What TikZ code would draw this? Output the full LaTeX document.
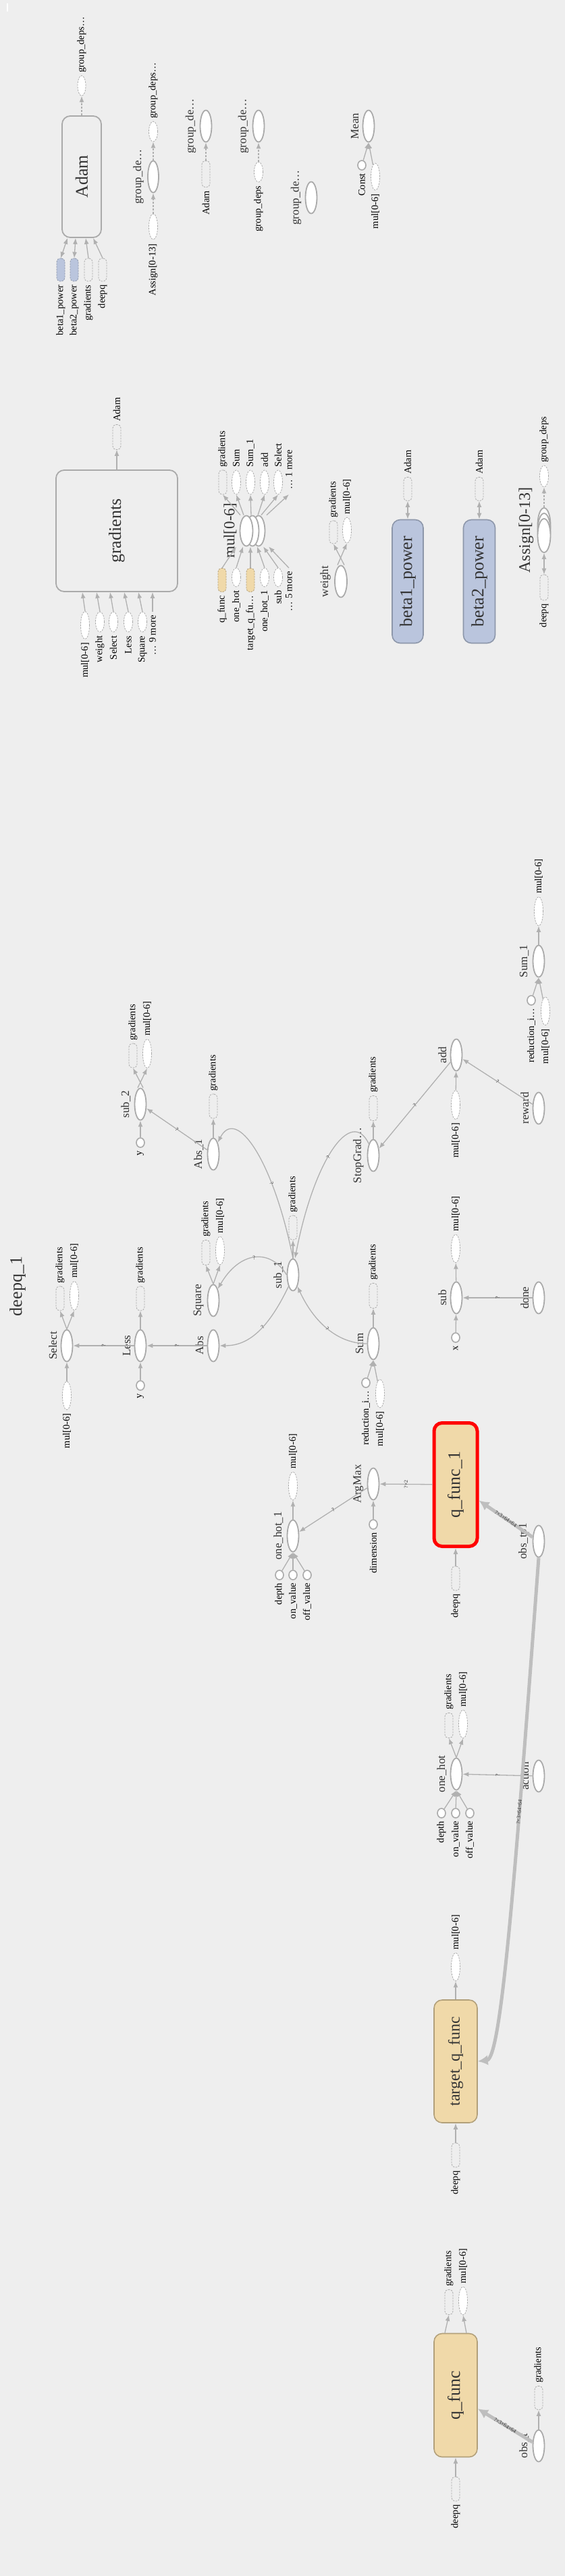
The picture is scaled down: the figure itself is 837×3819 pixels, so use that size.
\documentclass[tikz,border=0pt]{standalone}
\usepackage{fontspec}
\setmainfont{Liberation Serif}
\usetikzlibrary{shapes.geometric, arrows.meta, positioning}

\definecolor{bg}{HTML}{EEEEEE}
\definecolor{nodegray}{HTML}{AAAAAA}
\definecolor{edgegray}{HTML}{B0B0B0}
\definecolor{thickgray}{HTML}{BEBEBE}
\definecolor{functan}{HTML}{F0D9A9}
\definecolor{funcedge}{HTML}{B2A07A}
\definecolor{varblue}{HTML}{BAC5DD}
\definecolor{varedge}{HTML}{8D97AA}
\definecolor{labelgray}{HTML}{333333}

\tikzset{
  op/.style={ellipse, draw=nodegray, fill=white, line width=1.8pt,
    minimum width=17pt, minimum height=47pt, inner sep=0pt},
  cnst/.style={ellipse, draw=nodegray, fill=white, line width=1.6pt,
    minimum width=12pt, minimum height=14pt, inner sep=0pt},
  extrect/.style={rectangle, rounded corners=5pt, draw=nodegray,
    dash pattern=on 2.5pt off 1.5pt, line width=0.8pt,
    minimum width=12pt, minimum height=36pt, inner sep=0pt},
  extell/.style={ellipse, draw=nodegray, dash pattern=on 2.5pt off 1.5pt,
    fill=white, line width=0.8pt, minimum width=13pt, minimum height=42pt, inner sep=0pt},
  metabox/.style={rectangle, rounded corners=12pt, draw=nodegray,
    line width=1.8pt, inner sep=0pt},
  funcbox/.style={rectangle, rounded corners=12pt, draw=funcedge, fill=functan,
    line width=1.6pt, minimum width=64pt, minimum height=183pt, inner sep=0pt},
  varbox/.style={rectangle, rounded corners=12pt, draw=varedge, fill=varblue,
    line width=1.6pt, minimum width=46pt, minimum height=183pt, inner sep=0pt},
  biglbl/.style={rotate=90, text=labelgray, inner sep=0pt,
    font=\fontsize{26}{26}\selectfont},
  oplbl/.style={rotate=90, anchor=south, text=labelgray, inner sep=1pt,
    font=\fontsize{17}{17}\selectfont},
  upl/.style={rotate=90, anchor=west, inner sep=1pt,
    font=\fontsize{14.5}{14.5}\selectfont},
  dnl/.style={rotate=90, anchor=east, inner sep=1pt,
    font=\fontsize{14.5}{14.5}\selectfont},
  elbl/.style={text=labelgray, inner sep=1pt, font=\fontsize{8}{8}\selectfont},
  flow/.style={draw=edgegray, line width=1.3pt, -{Latex[length=9pt,width=7pt]}},
  ctrl/.style={flow, dash pattern=on 3pt off 2pt},
  refedge/.style={draw=edgegray, line width=1.3pt,
    {Latex[length=9pt,width=7pt]}-{Latex[length=9pt,width=7pt]}},
  heavy/.style={draw=thickgray, line width=5pt, -{Latex[length=15pt,width=15pt]}},
}

\begin{document}
\begin{tikzpicture}[x=1pt, y=-1pt]
\fill[bg] (0,0) rectangle (837,3819);
\useasboundingbox (0,0) rectangle (837,3819);
\draw[white, line width=2pt] (11,5) -- (11,17);

% ---------- Adam
\node[metabox, minimum width=58pt, minimum height=180pt] (adam) at (121,262) {};
\node[biglbl] at (adam) {Adam};
\node[extell, minimum height=30pt, minimum width=12pt] (adamout) at (121,127) {};
\node[upl] at ([yshift=3pt]adamout.north) {group\_deps…};
\draw[ctrl] (adam) -- (adamout);
\node[extrect, fill=varblue, draw=varedge, minimum height=34pt] (b1in) at (90,400) {};
\node[extrect, fill=varblue, draw=varedge, minimum height=34pt] (b2in) at (110,400) {};
\node[extrect, minimum height=34pt] (gradin) at (131,400) {};
\node[extrect, minimum height=34pt] (deepqin) at (152,400) {};
\node[dnl] at ([yshift=-4pt]b1in.south) {beta1\_power};
\node[dnl] at ([yshift=-4pt]b2in.south) {beta2\_power};
\node[dnl] at ([yshift=-4pt]gradin.south) {gradients};
\node[dnl] at ([yshift=-4pt]deepqin.south) {deepq};
\draw[refedge] (b1in.north) -- ([xshift=-21pt]adam.south);
\draw[refedge] (b2in.north) -- ([xshift=-9pt]adam.south);
\draw[flow] (gradin.north) -- ([xshift=6pt]adam.south);
\draw[flow] (deepqin.north) -- ([xshift=17pt]adam.south);

% ---------- group_deps nodes
\node[op, minimum height=47pt, minimum width=16pt] (gd1) at (227,262) {};
\node[oplbl] at ([xshift=-4pt]gd1.west) {group\_de…};
\node[extell, minimum height=30pt] (gd1out) at (227,195) {};
\node[upl] at ([yshift=3pt]gd1out.north) {group\_deps…};
\node[extell, minimum height=38pt] (gd1in) at (227,336) {};
\node[dnl] at ([yshift=-5pt]gd1in.south) {Assign[0-13]};
\draw[ctrl] (gd1in) -- (gd1);
\draw[ctrl] (gd1) -- (gd1out);

\node[op] (gd2) at (305,187) {};
\node[oplbl] at ([xshift=-4pt]gd2.west) {group\_de…};
\node[extrect, minimum height=39pt] (gd2in) at (305,258) {};
\node[dnl] at ([yshift=-4pt]gd2in.south) {Adam};
\draw[ctrl] (gd2in) -- (gd2);

\node[op] (gd3) at (383,187) {};
\node[oplbl] at ([xshift=-4pt]gd3.west) {group\_de…};
\node[extell, minimum height=30pt] (gd3in) at (383,255) {};
\node[dnl] at ([yshift=-4pt]gd3in.south) {group\_deps};
\draw[ctrl] (gd3in) -- (gd3);

\node[op] (gd4) at (461,293) {};
\node[oplbl] at ([xshift=-4pt]gd4.west) {group\_de…};

% ---------- Mean
\node[op] (mean) at (546,187) {};
\node[oplbl] at ([xshift=-4pt]mean.west) {Mean};
\node[cnst] (meanc) at (536,245) {};
\node[dnl] at ([yshift=-3pt]meanc.south) {Const};
\node[extell, minimum height=40pt] (meanm) at (556,262) {};
\node[dnl] at ([yshift=-4pt]meanm.south) {mul[0-6]};
\draw[flow] (meanc) -- (mean.south);
\draw[flow] (meanm) -- (mean.south);

% ---------- gradients
\node[metabox, minimum width=180pt, minimum height=180pt] (grad) at (173,787) {};
\node[biglbl] at (grad) {gradients};
\node[extrect, minimum height=37pt] (gradout) at (173,648) {};
\node[upl] at ([yshift=3pt]gradout.north) {Adam};
\draw[flow] (grad) -- (gradout);
\node[extell, minimum height=41pt] (gin1) at (126,927) {};
\node[extell, minimum height=30pt] (gin2) at (148,922) {};
\node[extell, minimum height=30pt] (gin3) at (168,922) {};
\node[extell, minimum height=30pt] (gin4) at (190,922) {};
\node[extell, minimum height=30pt] (gin5) at (211,922) {};
\coordinate (gin6) at (226,907);
\node[dnl] at ([yshift=-4pt]gin1.south) {mul[0-6]};
\node[dnl] at ([yshift=-4pt]gin2.south) {weight};
\node[dnl] at ([yshift=-4pt]gin3.south) {Select};
\node[dnl] at ([yshift=-4pt]gin4.south) {Less};
\node[dnl] at ([yshift=-4pt]gin5.south) {Square};
\node[dnl] at ([yshift=-4pt]gin6) {… 9 more};
\draw[flow] (gin1.north) -- ([xshift=-51pt]grad.south);
\draw[flow] (gin2.north) -- ([xshift=-30pt]grad.south);
\draw[flow] (gin3.north) -- ([xshift=-10pt]grad.south);
\draw[flow] (gin4.north) -- ([xshift=11pt]grad.south);
\draw[flow] (gin5.north) -- ([xshift=32pt]grad.south);
\draw[flow] (gin6) -- ([xshift=53pt]grad.south);

% ---------- mul[0-6] series
\node[op, minimum width=19pt, minimum height=45pt] (mulc) at (383,787) {};
\node[op, minimum width=19pt, minimum height=45pt] (mulser) at (374,787) {};
\node[op, minimum width=19pt, minimum height=45pt] (mula) at (365,787) {};
\node[oplbl, font=\fontsize{23}{23}\selectfont] at ([xshift=-3pt]mula.west) {mul[0-6]};
\node[extrect] (mo1) at (330,715) {};
\node[extell, minimum height=36pt] (mo2) at (350,715) {};
\node[extell, minimum height=36pt] (mo3) at (371,715) {};
\node[extell, minimum height=36pt] (mo4) at (392,715) {};
\node[extell, minimum height=36pt] (mo5) at (412,715) {};
\coordinate (mo6) at (428,733);
\node[upl] at ([yshift=3pt]mo1.north) {gradients};
\node[upl] at ([yshift=3pt]mo2.north) {Sum};
\node[upl] at ([yshift=3pt]mo3.north) {Sum\_1};
\node[upl] at ([yshift=3pt]mo4.north) {add};
\node[upl] at ([yshift=3pt]mo5.north) {Select};
\node[upl] at ([yshift=6pt]mo6) {… 1 more};
\draw[flow] ([xshift=-18pt]mulser.north) -- (mo1.south);
\draw[flow] ([xshift=-13pt]mulser.north) -- (mo2.south);
\draw[flow] ([xshift=-2pt]mulser.north) -- (mo3.south);
\draw[flow] ([xshift=8pt]mulser.north) -- (mo4.south);
\draw[flow] ([xshift=13pt]mulser.north) -- (mo5.south);
\draw[flow] ([xshift=21pt]mulser.north) -- (mo6);
\node[extrect, fill=functan, draw=funcedge, minimum height=35pt] (mi1) at (329,860) {};
\node[extell, minimum height=28pt] (mi2) at (350,856) {};
\node[extrect, fill=functan, draw=funcedge, minimum height=35pt] (mi3) at (371,860) {};
\node[extell, minimum height=28pt] (mi4) at (392,856) {};
\node[extell, minimum height=28pt] (mi5) at (412,856) {};
\coordinate (mi6) at (428,842);
\node[dnl] at ([yshift=-4pt]mi1.south) {q\_func};
\node[dnl] at ([yshift=-4pt]mi2.south) {one\_hot};
\node[dnl] at ([yshift=-4pt]mi3.south) {target\_q\_fu…};
\node[dnl] at ([yshift=-4pt]mi4.south) {one\_hot\_1};
\node[dnl] at ([yshift=-4pt]mi5.south) {sub};
\node[dnl] at ([yshift=-4pt]mi6) {… 5 more};
\draw[flow] (mi1.north) -- ([xshift=-24pt]mulser.south);
\draw[flow] (mi2.north) -- ([xshift=-14pt]mulser.south);
\draw[flow] (mi3.north) -- ([xshift=-3pt]mulser.south);
\draw[flow] (mi4.north) -- ([xshift=7pt]mulser.south);
\draw[flow] (mi5.north) -- ([xshift=16pt]mulser.south);
\draw[flow] (mi6) -- ([xshift=24pt]mulser.south);

% ---------- weight
\node[op, minimum width=18pt] (weight) at (505,862) {};
\node[oplbl] at ([xshift=-4pt]weight.west) {weight};
\node[extrect, minimum height=34pt] (wout1) at (494,789) {};
\node[extell, minimum height=38pt] (wout2) at (514,786) {};
\node[upl] at ([yshift=3pt]wout1.north) {gradients};
\node[upl] at ([yshift=3pt]wout2.north) {mul[0-6]};
\draw[flow] ([xshift=5pt]weight.north) -- (wout1.south);
\draw[flow] ([xshift=-5pt]weight.north) -- (wout2.south);

% ---------- variables
\node[varbox] (beta1) at (604,862) {};
\node[biglbl] at (beta1) {beta1\_power};
\node[extrect, minimum height=35pt] (b1out) at (604,725) {};
\node[upl] at ([yshift=3pt]b1out.north) {Adam};
\draw[refedge] (beta1) -- (b1out);
\node[varbox, minimum width=47pt] (beta2) at (710,862) {};
\node[biglbl] at (beta2) {beta2\_power};
\node[extrect, minimum height=35pt] (b2out) at (710,725) {};
\node[upl] at ([yshift=3pt]b2out.north) {Adam};
\draw[refedge] (beta2) -- (b2out);

% ---------- Assign[0-13] series
\node[op, minimum width=19pt, minimum height=50pt] (asa) at (806,778) {};
\node[op, minimum width=19pt, minimum height=50pt] (asser) at (806,786) {};
\node[op, minimum width=19pt, minimum height=50pt] (asc) at (806,794) {};
\node[oplbl, font=\fontsize{24}{24}\selectfont] at ([xshift=-4pt]asser.west) {Assign[0-13]};
\node[extell, minimum height=32pt] (asout) at (806,706) {};
\node[upl] at ([yshift=3pt]asout.north) {group\_deps};
\node[extrect, minimum height=38pt] (asin) at (806,871) {};
\node[dnl] at ([yshift=-4pt]asin.south) {deepq};
\draw[ctrl] (asa.north) -- (asout.south);
\draw[refedge] (asin.north) -- (asc.south);

% ---------- deepq_1
\node[biglbl] at (26,1907) {deepq\_1};

\node[op] (sub2) at (208,1637) {};
\node[oplbl] at ([xshift=-4pt]sub2.west) {sub\_2};
\node[extrect] (s2o1) at (197,1565) {};
\node[extell, minimum height=43pt] (s2o2) at (218,1562) {};
\node[upl] at ([yshift=3pt]s2o1.north) {gradients};
\node[upl] at ([yshift=3pt]s2o2.north) {mul[0-6]};
\draw[flow] ([xshift=4pt]sub2.north) -- (s2o1.south);
\draw[flow] ([xshift=-4pt]sub2.north) -- (s2o2.south);
\node[cnst] (y1) at (208,1694) {};
\node[dnl] at ([yshift=-3pt]y1.south) {y};
\draw[flow] (y1) -- (sub2);

\node[op] (abs1) at (316,1711) {};
\node[oplbl] at ([xshift=-4pt]abs1.west) {Abs\_1};
\node[extrect] (a1o) at (316,1640) {};
\node[upl] at ([yshift=3pt]a1o.north) {gradients};
\draw[flow] (abs1) -- (a1o);
\draw[flow] (abs1) -- node[elbl, sloped] {?} (sub2);

\node[op] (stopg) at (553,1713) {};
\node[oplbl] at ([xshift=-4pt]stopg.west) {StopGrad…};
\node[extrect, minimum height=37pt] (sgo) at (553,1643) {};
\node[upl] at ([yshift=3pt]sgo.north) {gradients};
\draw[flow] (stopg) -- (sgo);

\node[op] (add) at (676,1564) {};
\node[oplbl] at ([xshift=-4pt]add.west) {add};
\node[extell, minimum height=43pt] (addm) at (675,1638) {};
\node[dnl] at ([yshift=-4pt]addm.south) {mul[0-6]};
\draw[flow] (addm) -- (add);
\node[op] (reward) at (798,1643) {};
\node[oplbl] at ([xshift=-4pt]reward.west) {reward};
\draw[flow] (reward) -- node[elbl, sloped] {?} (add);
\draw[flow] (add) -- node[elbl, sloped] {?} (stopg);

\node[op] (sum1) at (798,1425) {};
\node[oplbl] at ([xshift=-4pt]sum1.west) {Sum\_1};
\node[extell, minimum height=43pt] (s1o) at (798,1351) {};
\node[upl] at ([yshift=3pt]s1o.north) {mul[0-6]};
\draw[flow] (sum1) -- (s1o);
\node[cnst] (s1c) at (787,1483) {};
\node[dnl] at ([yshift=-3pt]s1c.south) {reduction\_i…};
\node[extell] (s1m) at (808,1499) {};
\node[dnl] at ([yshift=-4pt]s1m.south) {mul[0-6]};
\draw[flow] (s1c) -- (sum1.south);
\draw[flow] (s1m) -- (sum1.south);

\node[op] (sub1) at (434,1890) {};
\node[oplbl] at ([xshift=-4pt]sub1.west) {sub\_1};
\node[extrect] (sub1o) at (434,1820) {};
\node[upl] at ([yshift=3pt]sub1o.north) {gradients};
\draw[flow] (sub1) -- (sub1o);

\node[op] (square) at (316,1928) {};
\node[oplbl] at ([xshift=-4pt]square.west) {Square};
\node[extrect, minimum height=37pt] (sqo1) at (305,1857) {};
\node[extell] (sqo2) at (326,1854) {};
\node[upl] at ([yshift=3pt]sqo1.north) {gradients};
\node[upl] at ([yshift=3pt]sqo2.north) {mul[0-6]};
\draw[flow] (square.north) -- (sqo1.south);
\draw[flow] (square.north) -- (sqo2.south);

\node[op] (select) at (99,1995) {};
\node[oplbl] at ([xshift=-4pt]select.west) {Select};
\node[extrect] (selo1) at (89,1925) {};
\node[extell, minimum height=43pt] (selo2) at (110,1921) {};
\node[upl] at ([yshift=3pt]selo1.north) {gradients};
\node[upl] at ([yshift=3pt]selo2.north) {mul[0-6]};
\draw[flow] (select.north) -- (selo1.south);
\draw[flow] (select.north) -- (selo2.south);
\node[extell] (selm) at (99,2069) {};
\node[dnl] at ([yshift=-4pt]selm.south) {mul[0-6]};
\draw[flow] (selm) -- (select);

\node[op] (less) at (208,1995) {};
\node[oplbl] at ([xshift=-4pt]less.west) {Less};
\node[extrect] (lesso) at (208,1925) {};
\node[upl] at ([yshift=3pt]lesso.north) {gradients};
\draw[flow] (less) -- (lesso);
\node[cnst] (y2) at (208,2054) {};
\node[dnl] at ([yshift=-3pt]y2.south) {y};
\draw[flow] (y2) -- (less);
\draw[flow] (less) -- node[elbl, rotate=90] {?} (select);

\node[op] (abs) at (316,1995) {};
\node[oplbl] at ([xshift=-4pt]abs.west) {Abs};
\draw[flow] (abs) -- node[elbl, rotate=90] {?} (less);

\node[op] (sum) at (553,1992) {};
\node[oplbl] at ([xshift=-4pt]sum.west) {Sum};
\node[extrect, minimum height=37pt] (sumo) at (553,1921) {};
\node[upl] at ([yshift=3pt]sumo.north) {gradients};
\draw[flow] (sum) -- (sumo);
\node[cnst] (sumc) at (542,2050) {};
\node[dnl] at ([yshift=-3pt]sumc.south) {reduction\_i…};
\node[extell] (summ) at (563,2066) {};
\node[dnl] at ([yshift=-4pt]summ.south) {mul[0-6]};
\draw[flow] (sumc) -- (sum.south);
\draw[flow] (summ) -- (sum.south);

% curved edges round sub_1
\draw[flow] (sub1.north) .. controls (405,1720) and (350,1640) .. node[elbl, sloped, pos=0.3] {?} (abs1.north east);
\draw[flow] (stopg.north west) .. controls (520,1640) and (465,1720) .. node[elbl, sloped, pos=0.55] {?} ([xshift=3pt]sub1.north);
\draw[flow] (sub1.west) .. controls (400,1850) and (355,1855) .. node[elbl, sloped, pos=0.5] {?} (square.north east);
\draw[flow] (sub1.south west) .. controls (395,1975) and (365,1995) .. node[elbl, sloped, pos=0.4] {?} (abs.east);
\draw[flow] (sum.west) .. controls (500,1992) and (465,1960) .. node[elbl, sloped, pos=0.5] {?} (sub1.south east);

\node[op] (sub) at (676,1924) {};
\node[oplbl] at ([xshift=-4pt]sub.west) {sub};
\node[extell] (subo) at (675,1851) {};
\node[upl] at ([yshift=3pt]subo.north) {mul[0-6]};
\draw[flow] (sub) -- (subo);
\node[cnst] (x1) at (675,1983) {};
\node[dnl] at ([yshift=-3pt]x1.south) {x};
\draw[flow] (x1) -- (sub);
\node[op] (done) at (798,1924) {};
\node[oplbl] at ([xshift=-4pt]done.west) {done};
\draw[flow] (done) -- node[elbl, rotate=90] {?} (sub);

% ---------- q_func_1 and ArgMax
\node[funcbox, draw=red, line width=5pt] (qf1) at (675,2201) {};
\node[biglbl] at (qf1) {q\_func\_1};
\node[extrect] (qf1in) at (675,2340) {};
\node[dnl] at ([yshift=-4pt]qf1in.south) {deepq};
\draw[flow] (qf1in) -- (qf1);

\node[op] (argmax) at (553,2200) {};
\node[oplbl] at ([xshift=-4pt]argmax.west) {ArgMax};
\node[cnst] (dim) at (553,2260) {};
\node[dnl] at ([yshift=-3pt]dim.south) {dimension};
\draw[flow] (dim) -- (argmax);
\draw[flow] (qf1) -- node[elbl, rotate=90] {?×2} (argmax);

\node[op] (oh1) at (434,2277) {};
\node[oplbl] at ([xshift=-4pt]oh1.west) {one\_hot\_1};
\node[extell] (oh1o) at (434,2203) {};
\node[upl] at ([yshift=3pt]oh1o.north) {mul[0-6]};
\draw[flow] (oh1) -- (oh1o);
\node[cnst] (oh1d) at (414,2335) {};
\node[cnst] (oh1on) at (434,2335) {};
\node[cnst] (oh1off) at (455,2335) {};
\node[dnl] at ([yshift=-3pt]oh1d.south) {depth};
\node[dnl] at ([yshift=-3pt]oh1on.south) {on\_value};
\node[dnl] at ([yshift=-3pt]oh1off.south) {off\_value};
\foreach \n in {oh1d, oh1on, oh1off}
  \draw[flow] (\n) -- (oh1.south);
\draw[flow] (argmax) -- node[elbl, sloped] {?} (oh1);

\node[op] (obstp1) at (798,2285) {};
\node[oplbl] at ([xshift=-4pt]obstp1.west) {obs\_tp1};
\draw[heavy] (obstp1) -- node[elbl, sloped] {?×3×64×64} (qf1);

% ---------- one_hot and action
\node[op] (oh) at (676,2630) {};
\node[oplbl] at ([xshift=-4pt]oh.west) {one\_hot};
\node[extrect, minimum height=37pt] (oho1) at (665,2558) {};
\node[extell] (oho2) at (686,2556) {};
\node[upl] at ([yshift=3pt]oho1.north) {gradients};
\node[upl] at ([yshift=3pt]oho2.north) {mul[0-6]};
\draw[flow] (oh.north) -- (oho1.south);
\draw[flow] (oh.north) -- (oho2.south);
\node[cnst] (ohd) at (654,2688) {};
\node[cnst] (ohon) at (675,2688) {};
\node[cnst] (ohoff) at (696,2688) {};
\node[dnl] at ([yshift=-3pt]ohd.south) {depth};
\node[dnl] at ([yshift=-3pt]ohon.south) {on\_value};
\node[dnl] at ([yshift=-3pt]ohoff.south) {off\_value};
\foreach \n in {ohd, ohon, ohoff}
  \draw[flow] (\n) -- (oh.south);
\node[op] (action) at (798,2633) {};
\node[oplbl] at ([xshift=-4pt]action.west) {action};
\draw[flow] (action) -- node[elbl, rotate=90] {?} (oh);

% ---------- target_q_func
\node[funcbox, minimum height=182pt] (tqf) at (675,3056) {};
\node[biglbl, font=\fontsize{24}{24}\selectfont] at (tqf) {target\_q\_func};
\node[extell] (tqfo) at (675,2916) {};
\node[upl] at ([yshift=3pt]tqfo.north) {mul[0-6]};
\draw[flow] (tqf) -- (tqfo);
\node[extrect] (tqfin) at (675,3195) {};
\node[dnl] at ([yshift=-4pt]tqfin.south) {deepq};
\draw[flow] (tqfin) -- (tqf);
\draw[heavy] (obstp1.south) .. controls (762,2800) and (742,3052) .. node[elbl, sloped, pos=0.3] {?×3×64×64} (tqf.east);

% ---------- q_func
\node[funcbox] (qf) at (675,3551) {};
\node[biglbl] at (qf) {q\_func};
\node[extrect, minimum height=37pt] (qfo1) at (665,3413) {};
\node[extell] (qfo2) at (686,3411) {};
\node[upl] at ([yshift=3pt]qfo1.north) {gradients};
\node[upl] at ([yshift=3pt]qfo2.north) {mul[0-6]};
\draw[flow] ([xshift=-16pt]qf.north) -- (qfo1.south);
\draw[flow] ([xshift=16pt]qf.north) -- (qfo2.south);
\node[extrect] (qfin) at (675,3690) {};
\node[dnl] at ([yshift=-4pt]qfin.south) {deepq};
\draw[flow] (qfin) -- (qf);

\node[op] (obst) at (798,3626) {};
\node[oplbl] at ([xshift=-4pt]obst.west) {obs\_t};
\node[extrect, minimum height=35pt] (obsto) at (798,3555) {};
\node[upl] at ([yshift=3pt]obsto.north) {gradients};
\draw[flow] (obst) -- (obsto);
\draw[heavy] (obst) -- node[elbl, sloped] {?×3×64×64} (qf);
\end{tikzpicture}
\end{document}
